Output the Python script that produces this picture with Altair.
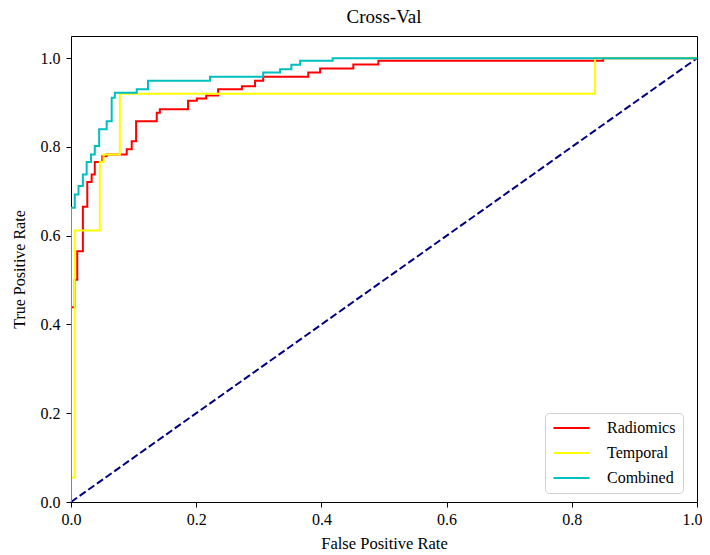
import altair as alt
import pandas as pd

# Radiomics ROC vertices
rad_fpr = [0, 0, 0.006, 0.006, 0.010, 0.010, 0.019, 0.019, 0.026, 0.026, 0.033, 0.033,
           0.038, 0.038, 0.050, 0.050, 0.057, 0.057, 0.089, 0.089, 0.097, 0.097, 0.104, 0.104,
           0.137, 0.137, 0.142, 0.142, 0.187, 0.187, 0.201, 0.201, 0.216, 0.216, 0.235, 0.235,
           0.273, 0.273, 0.294, 0.294, 0.307, 0.307, 0.379, 0.379, 0.398, 0.398, 0.451, 0.451,
           0.491, 0.491, 0.850, 0.850, 1.0]
rad_tpr = [0, 0.439, 0.439, 0.501, 0.501, 0.565, 0.565, 0.665, 0.665, 0.721, 0.721, 0.738,
           0.738, 0.766, 0.766, 0.779, 0.779, 0.783, 0.783, 0.795, 0.795, 0.813, 0.813, 0.858,
           0.858, 0.877, 0.877, 0.885, 0.885, 0.904, 0.904, 0.909, 0.909, 0.916, 0.916, 0.930,
           0.930, 0.937, 0.937, 0.949, 0.949, 0.958, 0.958, 0.968, 0.968, 0.977, 0.977, 0.986,
           0.986, 0.994, 0.994, 1.0, 1.0]

# Temporal ROC vertices
tem_fpr = [0, 0, 0.006, 0.006, 0.046, 0.046, 0.052, 0.052, 0.078, 0.078, 0.837, 0.837, 1.0]
tem_tpr = [0, 0.055, 0.055, 0.612, 0.612, 0.766, 0.766, 0.783, 0.783, 0.920, 0.920, 1.0, 1.0]

# Combined ROC vertices
com_fpr = [0, 0, 0.006, 0.006, 0.012, 0.012, 0.019, 0.019, 0.025, 0.025, 0.032, 0.032,
           0.038, 0.038, 0.045, 0.045, 0.057, 0.057, 0.065, 0.065, 0.070, 0.070, 0.105, 0.105,
           0.123, 0.123, 0.222, 0.222, 0.307, 0.307, 0.334, 0.334, 0.352, 0.352, 0.366, 0.366,
           0.418, 0.418, 1.0]
com_tpr = [0, 0.663, 0.663, 0.693, 0.693, 0.712, 0.712, 0.738, 0.738, 0.766, 0.766, 0.783,
           0.783, 0.802, 0.802, 0.840, 0.840, 0.858, 0.858, 0.911, 0.911, 0.922, 0.922, 0.930,
           0.930, 0.949, 0.949, 0.958, 0.958, 0.968, 0.968, 0.975, 0.975, 0.985, 0.985, 0.994,
           0.994, 1.0, 1.0]

diag_x = [0, 1]
diag_y = [0, 1]

series = ["Radiomics", "Temporal", "Combined"]
colors = ["#ff0000", "#ffff00", "#00bfbf"]
tick_vals = [0, 0.2, 0.4, 0.6, 0.8, 1.0]

rows = []
for name, xs, ys in [("Radiomics", rad_fpr, rad_tpr), ("Temporal", tem_fpr, tem_tpr),
                     ("Combined", com_fpr, com_tpr)]:
    for i, (a, b) in enumerate(zip(xs, ys)):
        rows.append({"series": name, "fpr": a, "tpr": b, "idx": i})
df = pd.DataFrame(rows)
diag = pd.DataFrame({"fpr": diag_x, "tpr": diag_y})

FONT = "Liberation Serif"

xenc = alt.X("fpr:Q", scale=alt.Scale(domain=[0, 1], nice=False, zero=False),
             axis=alt.Axis(title="False Positive Rate", values=tick_vals,
                           format=".1f", grid=False, domain=False, tickColor="black",
                           tickSize=5, labelColor="black", labelFont=FONT, labelFontSize=16,
                           labelPadding=4, titleFont=FONT, titleFontSize=16.5,
                           titleFontWeight="normal", titleColor="black", titlePadding=8,
                           labelFlush=False,
                           labelAlign={"condition": {"test": "datum.value >= 1", "value": "right"},
                                       "value": "center"},
                           labelOffset={"condition": {"test": "datum.value >= 1", "value": 5},
                                        "value": 0}))
yenc = alt.Y("tpr:Q", scale=alt.Scale(domain=[0, 1.05], nice=False, zero=False),
             axis=alt.Axis(title="True Positive Rate", values=tick_vals,
                           format=".1f", grid=False, domain=False, tickColor="black",
                           tickSize=5, labelColor="black", labelFont=FONT, labelFontSize=16,
                           labelPadding=6, titleFont=FONT, titleFontSize=16,
                           titleFontWeight="normal", titleColor="black", titlePadding=13,
                           labelFlush=False))

lines = alt.Chart(df).mark_line(strokeWidth=2, clip=True).encode(
    x=xenc,
    y=yenc,
    color=alt.Color("series:N", scale=alt.Scale(domain=series, range=colors),
                    sort=series,
                    legend=alt.Legend(title=None, orient="none", legendX=474, legendY=377,
                                      symbolType="stroke", symbolSize=1300,
                                      symbolStrokeWidth=2, labelFont=FONT, labelFontSize=16,
                                      labelColor="black", labelOffset=16, padding=7,
                                      clipHeight=16, rowPadding=9,
                                      strokeColor="#d0d0d0", fillColor="white",
                                      cornerRadius=4)),
    order=alt.Order("idx:Q"),
)

diag_line = alt.Chart(diag).mark_line(strokeWidth=2, color="#000080",
                                      strokeDash=[7.4, 3.2]).encode(x="fpr:Q", y="tpr:Q")

chart = alt.layer(diag_line, lines).properties(
    width=626, height=466,
    title=alt.TitleParams("Cross-Val", font=FONT, fontSize=19, fontWeight="normal",
                          color="black", offset=9),
    autosize=alt.AutoSizeParams(type="none"),
    padding={"left": 63, "top": 28, "right": 5, "bottom": 50},
).configure_view(stroke="black", strokeWidth=1)

chart.save("out.html", embed_options={"renderer": "svg", "actions": False})
